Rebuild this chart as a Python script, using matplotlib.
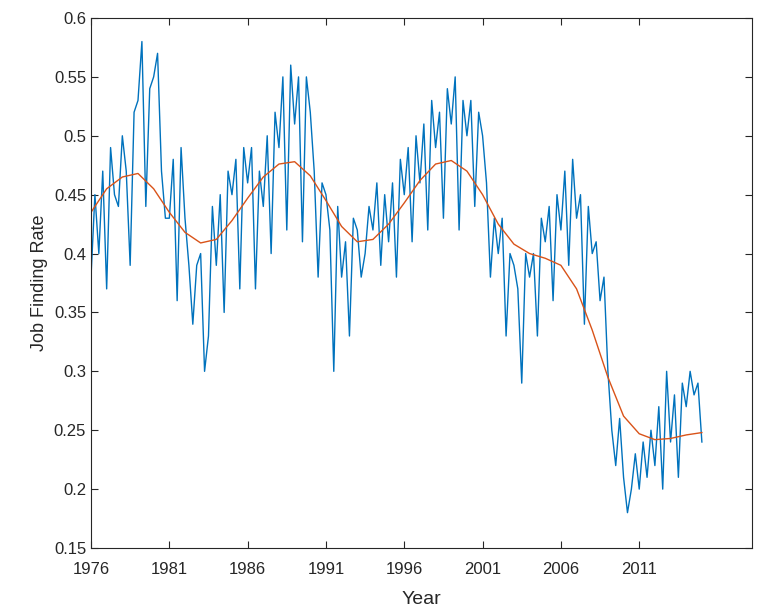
import matplotlib
matplotlib.use("Agg")
import matplotlib.pyplot as plt
import numpy as np

plt.rcParams['font.family'] = ['Liberation Sans', 'DejaVu Sans']

start_year = 1976
raw = [0.38,0.45,0.40,0.47, 0.37,0.49,0.45,0.44, 0.50,0.47,0.39,0.52, 0.53,0.58,0.44,0.54,
       0.55,0.57,0.47,0.43, 0.43,0.48,0.36,0.49, 0.43,0.39,0.34,0.39, 0.40,0.30,0.33,0.44,
       0.39,0.45,0.35,0.47, 0.45,0.48,0.37,0.49, 0.46,0.49,0.37,0.47, 0.44,0.50,0.40,0.52,
       0.49,0.55,0.42,0.56, 0.51,0.55,0.41,0.55, 0.52,0.47,0.38,0.46, 0.45,0.42,0.30,0.44,
       0.38,0.41,0.33,0.43, 0.42,0.38,0.40,0.44, 0.42,0.46,0.39,0.45, 0.41,0.46,0.38,0.48,
       0.45,0.49,0.41,0.50, 0.46,0.51,0.42,0.53, 0.49,0.52,0.43,0.54, 0.51,0.55,0.42,0.53,
       0.50,0.53,0.44,0.52, 0.50,0.46,0.38,0.43, 0.40,0.43,0.33,0.40, 0.39,0.37,0.29,0.40,
       0.38,0.40,0.33,0.43, 0.41,0.44,0.36,0.45, 0.42,0.47,0.39,0.48, 0.43,0.45,0.34,0.44,
       0.40,0.41,0.36,0.38, 0.30,0.25,0.22,0.26, 0.21,0.18,0.20,0.23, 0.20,0.24,0.21,0.25,
       0.22,0.27,0.20,0.30, 0.24,0.28,0.21,0.29, 0.27,0.30,0.28,0.29, 0.24]
trend = [0.435,0.455,0.465,0.468,0.455,0.435,0.418,0.409,0.412,0.428,
         0.447,0.465,0.476,0.478,0.466,0.445,0.423,0.410,0.412,0.425,
         0.443,0.462,0.476,0.479,0.470,0.450,0.425,0.408,0.400,0.396,
         0.390,0.370,0.335,0.295,0.262,0.247,0.242,0.243,0.246,0.248]
xticks = [1976,1981,1986,1991,1996,2001,2006,2011]
ytick_labels = ["0.15","0.2","0.25","0.3","0.35","0.4","0.45","0.5","0.55","0.6"]

xr = start_year + np.arange(len(raw)) / 4.0
xt = start_year + np.arange(len(trend))

fig = plt.figure(figsize=(7.57, 6.13), dpi=100)
ax = fig.add_axes([91/757, 1-548/613, (752-91)/757, (548-18)/613])
ax.plot(xr, raw, color="#0072BD", lw=1.0)
ax.plot(xt, trend, color="#D95319", lw=1.0)
ax.set_xlim(1976, 2018.2)
ax.set_ylim(0.15, 0.6)
ax.set_xticks(xticks)
ax.set_yticks(np.linspace(0.15, 0.6, len(ytick_labels)))
ax.set_yticklabels(ytick_labels)
ax.tick_params(direction="in", top=True, right=True, labelsize=12, colors="#262626", length=5)
ax.tick_params(axis="x", pad=10)
for s in ax.spines.values():
    s.set_color("#262626"); s.set_linewidth(0.8)
ax.set_xlabel("Year", fontsize=14, color="#262626", labelpad=10)
ax.set_ylabel("Job Finding Rate", fontsize=13, color="#262626")
fig.savefig("out.png", dpi=100)
